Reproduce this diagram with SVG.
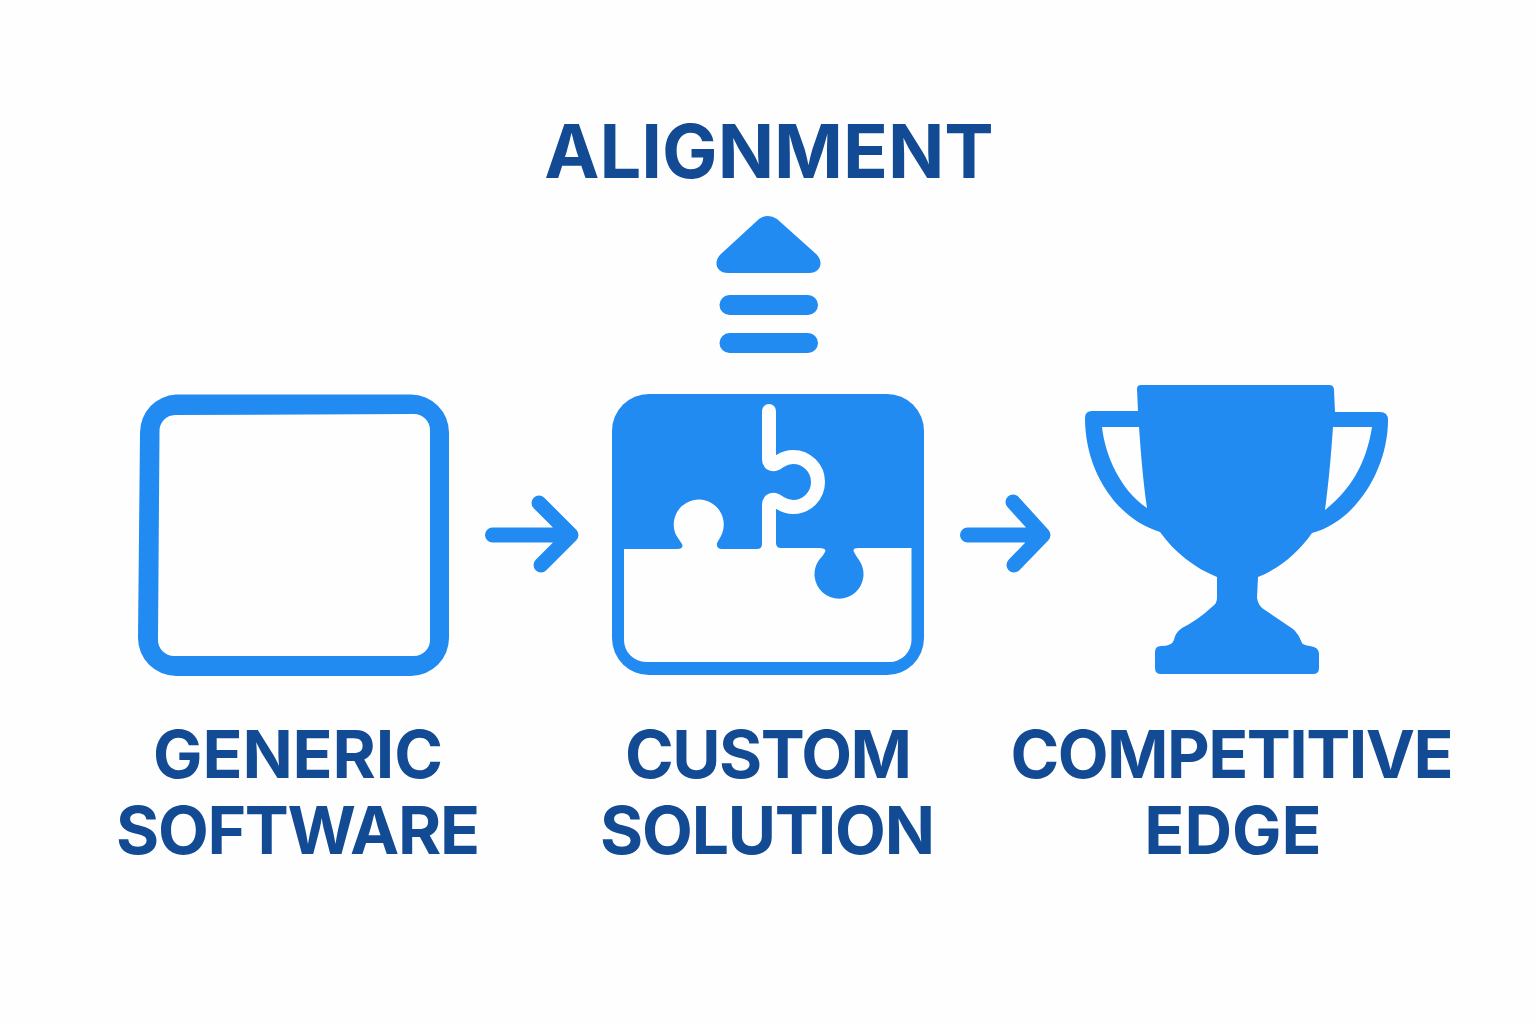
<svg xmlns="http://www.w3.org/2000/svg" width="1536" height="1024" viewBox="0 0 1536 1024">
<style>
.b{fill:#228bf2}
.w{fill:#fefefe}
.t{font-family:Inter,"Liberation Sans",sans-serif;font-weight:700;fill:#124a94;text-anchor:middle}
.l{font-size:66px}
.c{fill:none;stroke:#228bf2;stroke-width:15;stroke-linecap:round;stroke-linejoin:round}
</style>
<rect width="1536" height="1024" class="w"/>
<g id="connectors">
<path class="c" d="M492.500,535 H568 M539,503 L571,535 L541,565"/>
<path class="c" d="M967.500,535 H1041 M1013,502 L1043,535 L1014,565"/>
</g>
<g id="alignment">
<text class="t" x="769" y="178" font-size="74">ALIGNMENT</text>
<path class="b" d="M759,219 Q768,213 777,219 L815,253 C824,260 822,273 809,273 H728 C715,273 713,260 722,253 Z"/>
<rect class="b" x="719.500" y="295" width="98.500" height="20" rx="10"/>
<rect class="b" x="719.500" y="333" width="98.500" height="20" rx="10"/>
</g>
<g id="generic-software">
<path class="b" fill-rule="evenodd" d="M176,394.500 H411 A38,38 0 0 1 449,432.500 V638 A38,38 0 0 1 411,676 H176 A38,38 0 0 1 138,638 L140,432.500 A38,38 0 0 1 176,394.500 Z M175,415 A16,16 0 0 0 159.500,431 L158,640 A16,16 0 0 0 174,656 H414 A16,16 0 0 0 430,640 V430 A16,16 0 0 0 414,414 Z"/>
<text class="t l" x="298" y="778" textLength="290">GENERIC</text>
<text class="t l" x="298" y="854" textLength="364">SOFTWARE</text>
</g>
<g id="custom-solution">
<rect class="b" x="612" y="394" width="312" height="281" rx="37"/>
<path class="w" d="M624,549 H677 Q684,549 682,544 L676,535 A25,25 0 1 1 721,536 L717,543 Q716,549 722,549 H757 Q762,549 762,544 V520 H776 V543 Q776,548 781,548 H819 Q827,548 825,552 Q823,556 819,560 A24.500,24.500 0 1 0 859,560 Q856,556 854,552 Q852,548 859,548 H911.500 V640 A22,22 0 0 1 889,662 H646 A22,22 0 0 1 624,640 Z"/>
<path d="M769,411 V459 C769,466 775,465 780,461 C784,458.500 788,457 793,457 A25,25 0 1 1 793,507 C788,507 784,505.500 780,503 C775,499 769,498 769,505 V530" fill="none" stroke="#fefefe" stroke-width="14" stroke-linecap="round"/>
<text class="t l" x="768.500" y="778" textLength="287">CUSTOM</text>
<text class="t l" x="767.500" y="854" textLength="335">SOLUTION</text>
</g>
<g id="competitive-edge">
<path class="b" fill-rule="evenodd" d="M1141,385 H1329 Q1334,385 1334,390 L1335,412 H1380 Q1388,412 1388,420 C1388,470 1355,522 1312,533 C1298,553 1280,568 1258,577 L1257,598 Q1258,604 1262,608 L1293,629 Q1298,633 1302,643 Q1303,645 1310,646 Q1319,647 1319,654 V668 Q1319,674 1313,674 H1161 Q1155,674 1155,668 V652 Q1155,646 1161,646 Q1172,646 1174,640 Q1175,633 1182,628 Q1198,620 1213,606 Q1217,603 1217,598 V577 C1195,568 1175,553 1160,532 C1115,518 1085,470 1085,418 Q1085,411 1092,411 H1138 L1137,389 Q1137,385 1141,385 Z M1102,427 C1105,455 1120,490 1147,508 C1143,480 1141,455 1139,427 Z M1333,427 C1331,455 1329,480 1325,510 C1350,490 1366,465 1372,427 Z"/>
<text class="t l" x="1232" y="778" textLength="443">COMPETITIVE</text>
<text class="t l" x="1233" y="854">EDGE</text>
</g>
</svg>
